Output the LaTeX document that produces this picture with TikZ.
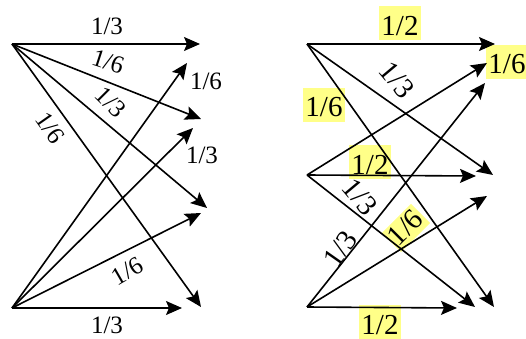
\documentclass[tikz,border=0pt]{standalone}
\usepackage{fontspec}
\setmainfont{Liberation Serif}
\usetikzlibrary{arrows.meta}
\definecolor{hl}{HTML}{FFFF88}
\begin{document}
\begin{tikzpicture}[x=1pt,y=-1pt,
  arr/.style={-{Stealth[length=16pt,width=14pt,inset=3pt]}, line width=1.6pt},
  lab/.style={font=\fontsize{25}{25}\selectfont, inner sep=0pt},
  rlab/.style={font=\fontsize{29}{29}\selectfont, inner sep=0pt},
  hlab/.style={rlab, fill=hl, inner xsep=2pt, inner ysep=0pt, text height=29pt, text depth=5pt}]
\useasboundingbox (0,0) rectangle (526,339);
\fill[white] (0,0) rectangle (526,339);
% left diagram
\coordinate (T1) at (12,44);
\coordinate (B1) at (12,308);
\coordinate (a1) at (200,44);
\coordinate (a2) at (201,119);
\coordinate (a3) at (207,208);
\coordinate (a4) at (201,307);
\coordinate (b1) at (187,63);
\coordinate (b2) at (193,128);
\coordinate (b3) at (201,213);
\coordinate (b4) at (182,308);
\draw[arr] (T1) -- (a1);
\draw[arr] (T1) -- (a2);
\draw[arr] (T1) -- (a3);
\draw[arr] (T1) -- (a4);
\draw[arr] (B1) -- (b1);
\draw[arr] (B1) -- (b2);
\draw[arr] (B1) -- (b3);
\draw[arr] (B1) -- (b4);
\node[lab] (l1) at (107,26) {1/3};
\node[lab, rotate=-18] (l2) at (108,62) {1/6};
\node[lab, rotate=-45] (l3) at (111,102) {1/3};
\node[lab, rotate=-55] (l4) at (50,128) {1/6};
\node[lab] (l5) at (206,81) {1/6};
\node[lab] (l6) at (202,155) {1/3};
\node[lab, rotate=30] (l7) at (127,271) {1/6};
\node[lab] (l8) at (107,325) {1/3};
% right diagram
\coordinate (S1) at (307,44);
\coordinate (S2) at (307,175);
\coordinate (S3) at (307,307);
\coordinate (c1) at (495,44);
\coordinate (c2) at (493,175);
\coordinate (c3) at (494,307);
\coordinate (d1) at (476,176);
\coordinate (d2) at (487,63);
\coordinate (d3) at (475,307);
\coordinate (e1) at (457,308);
\coordinate (e2) at (485,83);
\coordinate (e3) at (487,196);
\node[hlab] (m1) at (400,23.5) {1/2};
\node[hlab] (m2) at (324,105) {1/6};
\node[hlab] (m3) at (370,162) {1/2};
\node[hlab] (m4) at (507,62) {1/6};
\node[hlab] (m5) at (380,322) {1/2};
\node[hlab, rotate=45, text height=22pt] (m6) at (406,228) {1/6};
\draw[arr] (S1) -- (c1);
\draw[arr] (S1) -- (c2);
\draw[arr] (S1) -- (c3);
\draw[arr] (S2) -- (d1);
\draw[arr] (S2) -- (d2);
\draw[arr] (S2) -- (d3);
\draw[arr] (S3) -- (e1);
\draw[arr] (S3) -- (e2);
\draw[arr] (S3) -- (e3);
\node[rlab, rotate=-50] (n1) at (397,80) {1/3};
\node[rlab, rotate=-50] (n2) at (360,197) {1/3};
\node[rlab, rotate=55] (n3) at (340,249) {1/3};
\end{tikzpicture}
\end{document}
